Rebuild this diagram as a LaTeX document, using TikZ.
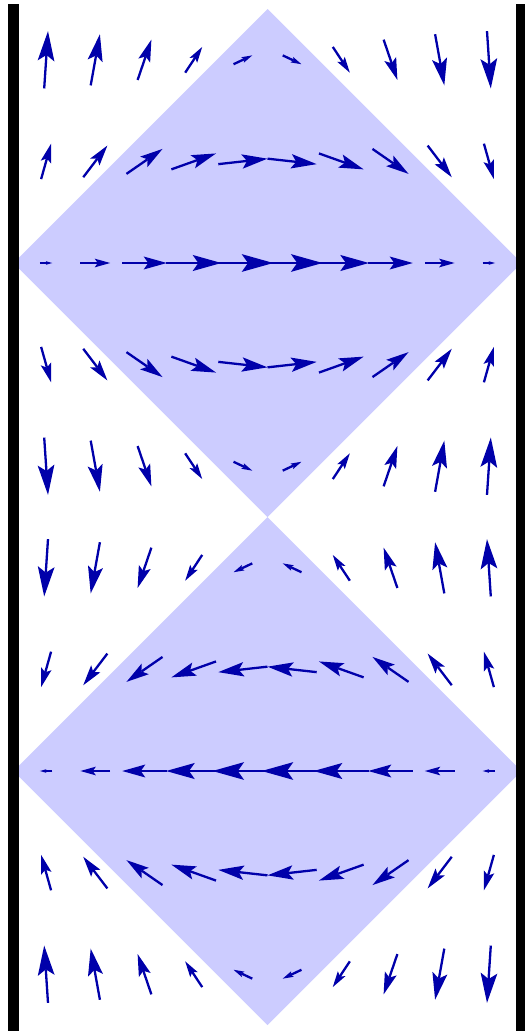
\documentclass[tikz,border=0pt]{standalone}
\definecolor{vecblue}{RGB}{0,0,170}
\definecolor{conefill}{RGB}{204,204,255}
\tikzset{
  shaft/.style={draw=vecblue,line width=2.3pt,line cap=butt},
  vhead/.style={fill=vecblue,draw=none},
  cone/.style={fill=conefill,draw=none},
  plate/.style={fill=black,draw=none}
}
\begin{document}
\begin{tikzpicture}[x=1pt,y=-1pt]
\useasboundingbox (0,0) rectangle (525,1031);
% light cones
\fill[cone] (13.5,263) -- (267.5,9) -- (521.5,263) -- (267.5,517) -- cycle;
\fill[cone] (13.5,771) -- (267.5,517) -- (521.5,771) -- (267.5,1025) -- cycle;
% vector field
\foreach \i in {0,...,9}{
  \foreach \j in {0,...,9}{
    \pgfmathsetmacro\vX{267.5+49.2*(\i-4.5)}
    \pgfmathsetmacro\vY{59.8+101.6*\j}
    \pgfmathsetmacro\vA{(\vX-13.5)/508*180}
    \pgfmathsetmacro\vU{(\vY-263)/508*180}
    \pgfmathsetmacro\vEx{sin(\vA)*cos(\vU)}
    \pgfmathsetmacro\vEy{cos(\vA)*sin(\vU)}
    \pgfmathsetmacro\tX{\vX-30.75*\vEx}
    \pgfmathsetmacro\tY{\vY-30.75*\vEy}
    \pgfmathsetmacro\hX{\vX+30.75*\vEx}
    \pgfmathsetmacro\hY{\vY+30.75*\vEy}
    \pgfmathsetmacro\nX{\vX+5.17*\vEx}
    \pgfmathsetmacro\nY{\vY+5.17*\vEy}
    \pgfmathsetmacro\bX{\vX-1.23*\vEx}
    \pgfmathsetmacro\bY{\vY-1.23*\vEy}
    \pgfmathsetmacro\pX{-9.0*\vEy}
    \pgfmathsetmacro\pY{9.0*\vEx}
    \coordinate (tail-\i-\j) at (\tX,\tY);
    \coordinate (notch-\i-\j) at (\nX,\nY);
    \coordinate (tip-\i-\j) at (\hX,\hY);
    \draw[shaft] (tail-\i-\j) -- (notch-\i-\j);
    \fill[vhead] (tip-\i-\j) -- (\bX+\pX,\bY+\pY) -- (notch-\i-\j) -- (\bX-\pX,\bY-\pY) -- cycle;
  }
}
% plates
\fill[plate] (8,3.5) rectangle (19.3,1031);
\fill[plate] (516,3.5) rectangle (525,1031);
\end{tikzpicture}
\end{document}
